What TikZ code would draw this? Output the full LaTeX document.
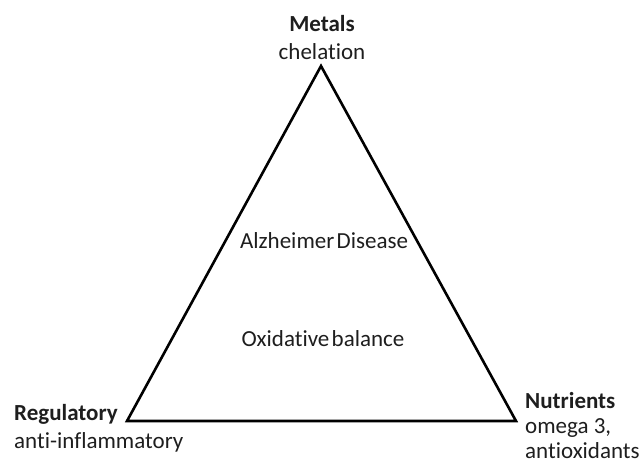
\documentclass[tikz,border=0pt]{standalone}
\usepackage{fontspec}
\setmainfont{Carlito}[Ligatures=NoCommon]
\usetikzlibrary{positioning}
\definecolor{inkgray}{RGB}{30, 30, 30}

\begin{document}
\begin{tikzpicture}[
  x=1pt, y=-1pt,
  label/.style={font=\fontsize{23}{25}\selectfont, text=inkgray, inner sep=0pt},
  title/.style={label, font=\fontsize{23}{25}\selectfont\bfseries},
  side/.style={line width=2.6pt, line join=miter, black}
]
  \useasboundingbox (0, 0) rectangle (644, 469);

  % corners of the triangle
  \coordinate (apex) at (321, 66);
  \coordinate (baseL) at (127, 421);
  \coordinate (baseR) at (516, 421);
  \draw[side] (apex) -- (baseL) -- (baseR) -- cycle;

  % top corner
  \node[title, anchor=base] (metals) at (322, 31) {Metals};
  \node[label, anchor=base] (chel) at (322, 59) {chelation};

  % inside
  \node[label, anchor=base] (alz) at (324, 248) {Alzheimer\hspace{0.1em}Disease};
  \node[label, anchor=base] (oxid) at (323, 346) {Oxidative\hspace{0.1em}balance};

  % left corner
  \node[title, anchor=base west] (regul) at (14, 420) {Regulatory};
  \node[label, anchor=base west] (antiinf) at (14, 448) {anti-inflammatory};

  % right corner
  \node[title, anchor=base west] (nutr) at (525, 408) {Nutrients};
  \node[label, anchor=base west] (omega) at (525, 433) {omega 3,};
  \node[label, anchor=base west] (antiox) at (525, 458) {antioxidants};
\end{tikzpicture}
\end{document}
